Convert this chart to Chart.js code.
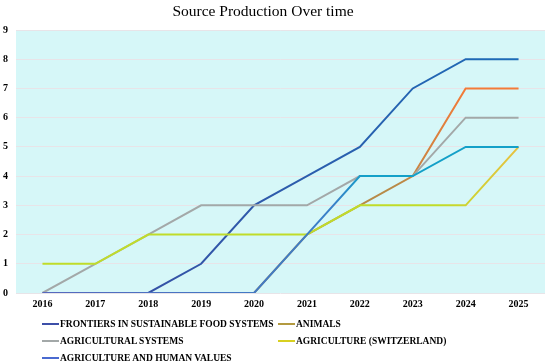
<!DOCTYPE html>
<html>
<head>
<meta charset="utf-8">
<script src="https://cdn.jsdelivr.net/npm/chart.js@4/dist/chart.umd.min.js"></script>
<style>
  html, body { margin: 0; padding: 0; background: #fff; }
  #wrap { position: relative; width: 550px; height: 363px; }
  #c { position: absolute; left: 0; top: 0; }
  #title { position: absolute; left: 0; top: 2px; width: 526px; text-align: center;
    font-family: "Liberation Serif", "Times New Roman", serif; font-size: 15.5px; color: #000; }
  #legend { position: absolute; left: 0; top: 315px; width: 550px;
    font-family: "Liberation Serif", "Times New Roman", serif; font-weight: bold; font-size: 9.5px; color: #000; }
  .item { position: absolute; display: flex; align-items: center; white-space: nowrap; height: 17px; }
  .swatch { width: 17px; height: 2px; margin-right: 1px; }
</style>
</head>
<body>
<div id="wrap">
  <canvas id="c" width="550" height="363"></canvas>
  <div id="title">Source Production Over time</div>
  <div id="legend"></div>
</div>
<script>
const years = ["2016","2017","2018","2019","2020","2021","2022","2023","2024","2025"];
const frontiers   = [0, 0, 0, 1, 3, 4, 5, 7, 8, 8];
const animals     = [0, 0, 0, 0, 0, 2, 3, 4, 7, 7];
const agriSystems = [0, 1, 2, 3, 3, 3, 4, 4, 6, 6];
const agriSwiss   = [1, 1, 2, 2, 2, 2, 3, 3, 3, 5];
const agriHuman   = [0, 0, 0, 0, 0, 2, 4, 4, 5, 5];
const yTicks = [0,1,2,3,4,5,6,7,8,9];

const seriesNames = [
  "FRONTIERS IN SUSTAINABLE FOOD SYSTEMS",
  "ANIMALS",
  "AGRICULTURAL SYSTEMS",
  "AGRICULTURE (SWITZERLAND)",
  "AGRICULTURE AND HUMAN VALUES"
];
const seriesData = [frontiers, animals, agriSystems, agriSwiss, agriHuman];
const gradStops = [
  [[0, "#3d48a0"], [0.6, "#2a5fae"], [1, "#1a6db8"]],
  [[0, "#a89048"], [0.72, "#b88a48"], [0.85, "#f47a38"], [1, "#f47a38"]],
  [[0, "#a3a8a8"], [1, "#a3a8a8"]],
  [[0, "#c0dc2a"], [0.8, "#c0dc2a"], [1, "#f4b848"]],
  [[0, "#5a66bc"], [0.6, "#3a80c8"], [0.66, "#14a0c8"], [1, "#14a0c8"]]
];
const legendColors = ["#3d4fa8", "#b39a40", "#a3a8a8", "#d8d020", "#4a6ad0"];

function makeGradient(ctx, area, stops) {
  const g = ctx.createLinearGradient(area.left, 0, area.right, 0);
  stops.forEach(s => g.addColorStop(s[0], s[1]));
  return g;
}

const bgPlugin = {
  id: 'bg',
  beforeDraw(chart) {
    const {ctx, chartArea: a} = chart;
    ctx.save();
    ctx.fillStyle = '#d6f7f8';
    ctx.fillRect(a.left, a.top, a.right - a.left, a.bottom - a.top);
    ctx.restore();
  }
};

const datasets = seriesNames.map((name, i) => ({
  label: name,
  data: seriesData[i],
  order: seriesNames.length - i,
  borderWidth: 2,
  pointRadius: 0,
  tension: 0,
  fill: false,
  borderColor: (context) => {
    const chart = context.chart;
    if (!chart.chartArea) return legendColors[i];
    return makeGradient(chart.ctx, chart.chartArea, gradStops[i]);
  }
}));

const chart = new Chart(document.getElementById('c'), {
  type: 'line',
  data: { labels: years, datasets },
  plugins: [bgPlugin],
  options: {
    responsive: false,
    animation: false,
    layout: { padding: { left: 0, right: 5, top: 30, bottom: 48 } },
    plugins: {
      legend: { display: false },
      tooltip: { enabled: false },
      title: { display: false }
    },
    scales: {
      x: {
        offset: true,
        grid: { display: false, drawTicks: false },
        border: { display: false },
        ticks: { color: '#000', font: { family: '"Liberation Serif", serif', size: 10, weight: 'bold' }, padding: 5, maxRotation: 0 }
      },
      y: {
        min: 0, max: 9,
        afterFit(scale) { scale.width = 16; },
        afterBuildTicks(scale) { scale.ticks = yTicks.map(v => ({ value: v })); },
        grid: { color: '#e8e4e8', lineWidth: 1, drawTicks: false },
        border: { display: false },
        ticks: { color: '#000', font: { family: '"Liberation Serif", serif', size: 10, weight: 'bold' }, padding: 8, crossAlign: 'near' }
      }
    }
  }
});

// HTML legend built from the datasets
const legend = document.getElementById('legend');
const positions = [[42, 0], [278, 0], [42, 17], [278, 17], [42, 34]];
chart.data.datasets.forEach((ds, i) => {
  const item = document.createElement('div');
  item.className = 'item';
  item.style.left = positions[i][0] + 'px';
  item.style.top = positions[i][1] + 'px';
  const sw = document.createElement('span');
  sw.className = 'swatch';
  sw.style.background = legendColors[i];
  const t = document.createElement('span');
  t.textContent = ds.label;
  item.appendChild(sw); item.appendChild(t);
  legend.appendChild(item);
});
</script>
</body>
</html>
